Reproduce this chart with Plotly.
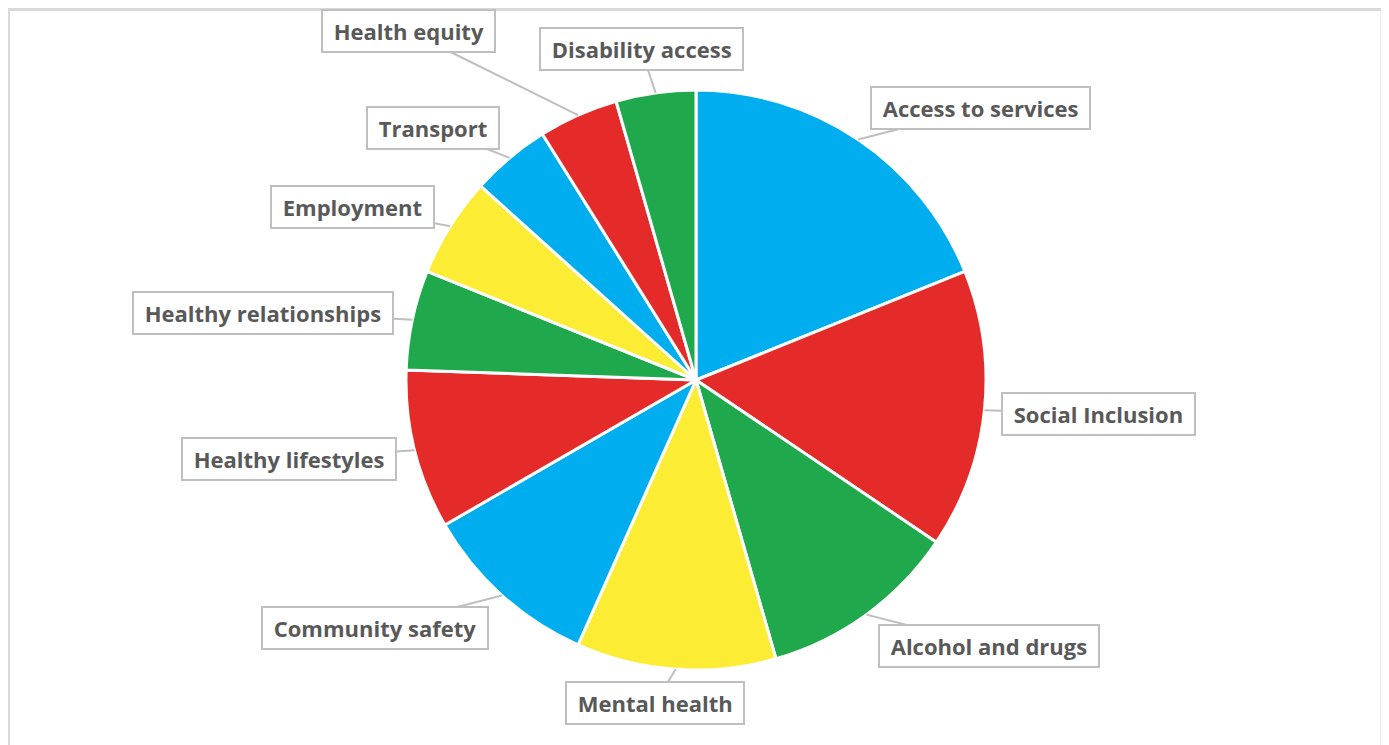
import math
import plotly.graph_objects as go

# ---- data ----
categories = ["Access to services", "Social Inclusion", "Alcohol and drugs", "Mental health",
              "Community safety", "Healthy lifestyles", "Healthy relationships", "Employment",
              "Transport", "Health equity", "Disability access"]
values = [17, 14, 10, 10, 9, 8, 5, 5, 4, 4, 4]
palette = ["#00AEEF", "#E52B2A", "#20A84C", "#FCEC33"]
colors = [palette[i % 4] for i in range(len(categories))]

# ---- layout geometry (pixels, in screenshot coordinates; page has 8px offset) ----
OFF = 8
W, H = 1389 - OFF, 745 - OFF
CX, CY, R = 696 - OFF, 380 - OFF, 290
# label box centres (screenshot pixels)
label_pos = {
    "Access to services": (980, 108),
    "Social Inclusion": (1098, 414),
    "Alcohol and drugs": (989, 646),
    "Mental health": (655, 703),
    "Community safety": (375, 628),
    "Healthy lifestyles": (289, 459),
    "Healthy relationships": (263, 313),
    "Employment": (352, 207),
    "Transport": (433, 128),
    "Health equity": (408, 31),
    "Disability access": (641, 49),
}

fig = go.Figure(go.Pie(
    labels=categories, values=values, sort=False, direction="clockwise", rotation=0,
    marker=dict(colors=colors, line=dict(color="white", width=3)),
    textinfo="none", hoverinfo="label+value+percent", showlegend=False,
    domain=dict(x=[(CX - R) / W, (CX + R) / W], y=[1 - (CY + R) / H, 1 - (CY - R) / H]),
))

total = sum(values)
annotations = []
cum = 0
for cat, v in zip(categories, values):
    mid = (cum + v / 2) / total * 2 * math.pi
    cum += v
    tx = CX + R * math.sin(mid)
    ty = CY - R * math.cos(mid)
    lx, ly = label_pos[cat]
    lx -= OFF
    ly -= OFF
    annotations.append(dict(
        x=tx / W, y=1 - ty / H, xref="paper", yref="paper",
        ax=lx - tx, ay=ly - ty, axref="pixel", ayref="pixel",
        text=f"&nbsp;<b>{cat}</b>&nbsp;", showarrow=True, arrowhead=0, arrowwidth=2,
        arrowcolor="#BFBFBF", standoff=0, startstandoff=0,
        font=dict(family="Open Sans, sans-serif", size=22, color="#595959"),
        bgcolor="white", bordercolor="#BFBFBF", borderwidth=2, borderpad=5,
    ))

fig.update_layout(
    width=W, height=H, margin=dict(l=0, r=0, t=0, b=0),
    paper_bgcolor="white", plot_bgcolor="white",
    annotations=annotations,
    shapes=[dict(type="rect", xref="paper", yref="paper",
                 x0=0.5 / W, x1=(1382 - OFF) / W, y0=-0.05, y1=1 - 1.5 / H,
                 line=dict(color="#D9D9D9", width=3), layer="below")],
)

fig.write_html("out.html")
